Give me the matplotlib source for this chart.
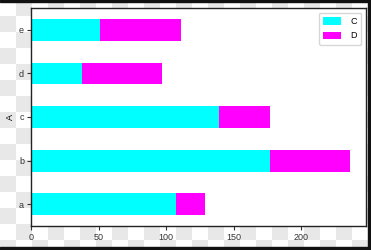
import numpy as np
import pandas as pd
import matplotlib
matplotlib.use("Agg")
import matplotlib.pyplot as plt
from matplotlib.patches import Rectangle

categories = ["a", "b", "c", "d", "e"]
c_values = [107, 177, 139, 38, 51]
d_values = [22, 59, 38, 59, 60]

plt.rcParams['font.family'] = ['Liberation Sans', 'DejaVu Sans']
plt.rcParams['font.size'] = 6.5

df = pd.DataFrame({"A": categories, "C": c_values, "D": d_values}).set_index("A")

fig = plt.figure(figsize=(3.71, 2.5), dpi=100)

# checkerboard background (transparent look)
W, H = 371, 250
yy, xx = np.mgrid[0:H, 0:W]
checker = ((xx // 16 + yy // 16) % 2).astype(float)
bg = np.where(checker[..., None] == 1, [0.91, 0.91, 0.91], [1.0, 1.0, 1.0])
bgax = fig.add_axes([0, 0, 1, 1], zorder=-5)
bgax.imshow(bg, aspect="auto", interpolation="nearest")
bgax.axis("off")

ax = fig.add_axes([31 / W, 1 - 226 / H, 335 / W, 218 / H])
df.plot.barh(stacked=True, ax=ax, color=["#00ffff", "#ff00ff"], width=0.5)
ax.set_facecolor("white")
ax.set_xticks([0, 50, 100, 150, 200])
ax.tick_params(length=3, width=0.8, pad=2, labelsize=6.5, colors="#333333")
for s in ax.spines.values():
    s.set_linewidth(1)
    s.set_color("#222222")
ax.set_ylabel("A", labelpad=3)
ax.legend(loc="upper right", fontsize=6.5, handlelength=2.0, handleheight=0.9,
          borderpad=0.5, labelspacing=0.6, handletextpad=1.0, framealpha=0.8)

# dark frame edges
fig.patches.append(Rectangle((0, 1 - 2 / H), 1, 2 / H, transform=fig.transFigure,
                             color="#111111", zorder=10))
fig.patches.append(Rectangle((0, 0), 1, 3 / H, transform=fig.transFigure,
                             color="#111111", zorder=10))
fig.patches.append(Rectangle((1 - 3 / W, 0), 3 / W, 1, transform=fig.transFigure,
                             color="#111111", zorder=10))

fig.savefig("out.png", dpi=100)
